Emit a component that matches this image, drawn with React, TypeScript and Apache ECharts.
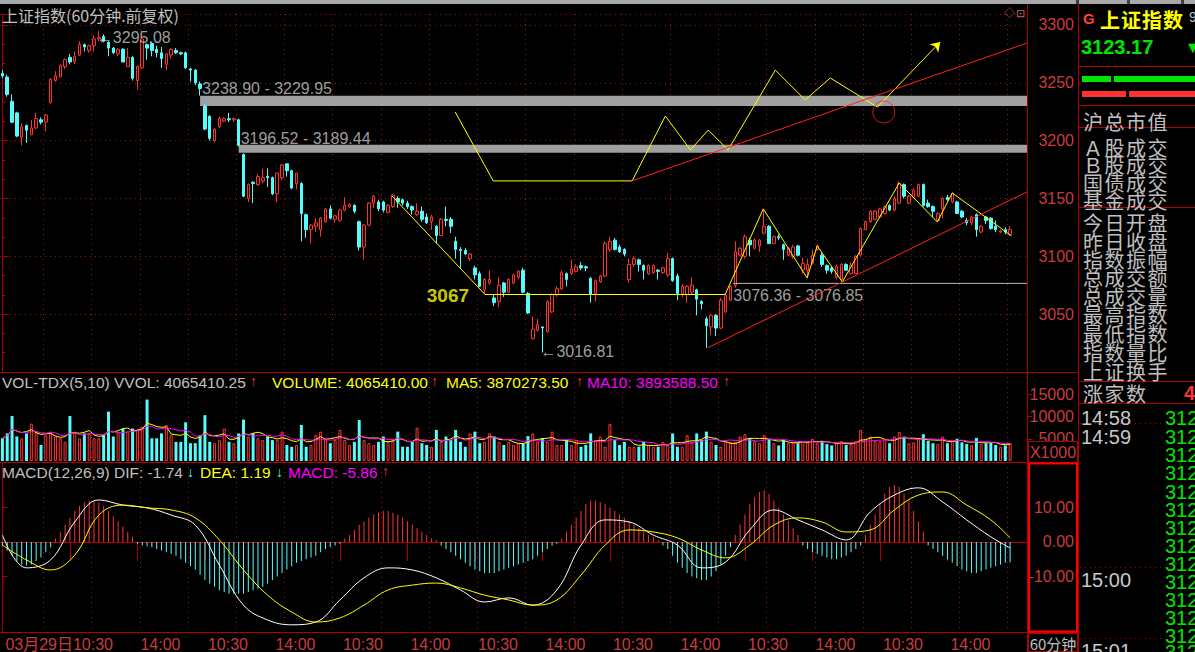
import React, { useEffect, useRef } from 'react';
import * as echarts from 'echarts';

// ---------------- data ----------------
const tickLabels = ['03月29日', '10:30', '14:00', '10:30', '14:00', '10:30', '14:00', '10:30', '14:00', '10:30', '14:00', '10:30', '14:00', '10:30', '14:00'];
const TICK_STEP = 14;
const SLOTS = 213;

// [open, close, low, high]
const candles = [
  [3258,3256,3254,3261],[3255,3240,3238,3257],[3234,3216,3215,3240],[3224,3204,3203,3225],[3203,3212,3196,3215],[3213,3209,3198,3214],[3205,3211,3205,3218],[3211,3219,3210,3224],[3218,3216,3214,3220],[3216,3222,3208,3223],
  [3233,3253,3232,3254],[3252,3256,3251,3260],[3255,3265,3255,3266],[3264,3270,3262,3271],[3272,3268,3266,3275],[3268,3273,3266,3277],[3274,3283,3273,3286],[3283,3281,3277,3284],[3278,3282,3276,3283],[3282,3288,3277,3291],
  [3288,3289,3286,3295.08],[3290,3286,3285,3292],[3285,3280,3273,3286],[3280,3276,3275,3281],[3275,3279,3273,3280],[3279,3268,3268,3280],[3264,3272,3264,3280],[3272,3254,3252,3273],[3252,3264,3244,3265],[3263,3288,3262,3289],
  [3283,3280,3270,3284],[3284,3278,3273,3285],[3279,3276,3272,3282],[3276,3271,3263,3281],[3266,3275,3261,3276],[3274,3279,3271,3280],[3278,3276,3275,3280],[3276,3275,3274,3277],[3276,3263,3262,3277],[3262,3261,3251,3263],
  [3261,3250,3248,3262],[3249,3245,3239,3251],[3230,3210,3209,3232],[3221,3202,3200,3222],[3200,3210,3199,3211],[3212,3219,3211,3221],[3217,3219,3216,3220],[3219,3218,3216,3224],[3218,3219,3216,3220],[3218,3196,3195,3219],
  [3188,3152,3151,3189],[3150,3162,3147,3163],[3164,3163,3146,3165],[3162,3169,3161,3171],[3165,3168,3163,3176],[3169,3168,3160,3176],[3168,3154,3153,3169],[3154,3172,3147,3172],[3168,3179,3166,3180],[3180,3174,3169,3180],
  [3174,3159,3158,3175],[3163,3172,3158,3172],[3163,3137,3113,3164],[3136,3123,3116,3137],[3123,3127,3111,3128],[3126,3129,3121,3133],[3123,3133,3117,3134],[3130,3141,3129,3142],[3141,3133,3132,3144],[3132,3135,3129,3136],
  [3131,3140,3130,3141],[3140,3144,3139,3151],[3143,3145,3142,3146],[3144,3139,3137,3145],[3130,3108,3105,3131],[3108,3127,3097,3128],[3127,3146,3126,3147],[3146,3152,3142,3153],[3147,3141,3139,3149],[3147,3140,3138,3148],
  [3138,3144,3137,3145],[3143,3153,3142,3154],[3150,3147,3142,3152],[3149,3146,3144,3150],[3146,3143,3141,3148],[3143,3140,3136,3144],[3136,3139,3135,3146],[3139,3132,3130,3143],[3134,3129,3128,3137],[3130,3134,3123,3136],
  [3126,3118,3111,3127],[3118,3132,3118,3133],[3132,3131,3126,3143],[3132,3126,3120,3134],[3113,3106,3098,3117],[3106,3105,3090,3108],[3105,3102,3101,3107],[3098,3102,3096,3103],[3090,3084,3080,3092],[3085,3074,3074,3087],
  [3071,3080,3067,3081],[3077,3080,3075,3088],[3064,3060,3057,3067],[3061,3075,3056,3082],[3077,3069,3065,3078],[3069,3080,3068,3081],[3077,3084,3076,3085],[3082,3087,3080,3088],[3088,3069,3068,3090],[3068,3051,3050,3069],
  [3029,3037,3028,3048],[3036,3041,3035,3046],[3039,3038,3016.81,3039],[3035,3061,3034,3062],[3052,3067,3051,3068],[3067,3072,3065,3074],[3072,3086,3071,3088],[3085,3080,3074,3086],[3085,3089,3084,3097],[3087,3091,3086,3093],
  [3092,3090,3088,3095],[3091,3090,3087,3092],[3081,3067,3060,3082],[3068,3079,3061,3080],[3078,3083,3077,3084],[3083,3111,3082,3113],[3106,3113,3104,3117],[3114,3106,3105,3116],[3108,3104,3103,3110],[3106,3102,3100,3107],
  [3080,3093,3077,3098],[3093,3098,3091,3100],[3097,3093,3087,3098],[3092,3088,3080,3093],[3085,3092,3084,3093],[3086,3092,3085,3093],[3088,3087,3080,3089],[3086,3090,3085,3091],[3084,3098,3082,3103],[3098,3079,3078,3099],
  [3083,3068,3062,3085],[3068,3074,3065,3076],[3067,3074,3060,3075],[3069,3075,3067,3082],[3071,3063,3049,3072],[3061,3059,3054,3062],[3046,3040,3021,3048],[3039,3049,3032,3050],[3049,3038,3031,3050],[3038,3062,3037,3064],
  [3052,3066,3051,3068],[3062,3074,3062,3075],[3075,3104,3073,3113],[3101,3107,3100,3108],[3100,3117,3098,3119],[3114,3110,3100,3116],[3107,3114,3106,3116],[3109,3114,3104,3115],[3120,3126,3119,3141],[3126,3111,3111,3127],
  [3111,3117,3111,3118],[3117,3116,3114,3119],[3110,3106,3097,3111],[3101,3107,3100,3108],[3100,3108,3098,3110],[3109,3101,3100,3110],[3088,3094,3085,3099],[3088,3093,3082,3098],[3094,3101,3093,3106],[3106,3109,3105,3110],
  [3101,3093,3091,3103],[3092,3088,3085,3093],[3090,3087,3085,3091],[3082,3091,3080,3093],[3080,3093,3079,3094],[3093,3088,3088,3094],[3085,3092,3085,3095],[3085,3100,3085,3101],[3101,3124,3100,3125],[3123,3130,3123,3131],
  [3130,3139,3129,3140],[3132,3139,3131,3140],[3134,3141,3133,3142],[3137,3143,3136,3144],[3144,3140,3139,3145],[3140,3150,3139,3152],[3146,3163,3145,3165],[3162,3152,3150,3163],[3146,3152,3145,3153],[3151,3157,3150,3159],
  [3152,3162,3151,3163],[3162,3144,3143,3163],[3146,3143,3142,3149],[3143,3139,3134,3144],[3131,3137,3130,3138],[3141,3150,3133,3151],[3151,3149,3148,3153],[3147,3154,3146,3155],[3147,3137,3137,3148],[3139,3134,3133,3140],
  [3131,3129,3127,3133],[3129,3134,3127,3135],[3136,3123,3117,3137],[3121,3126,3120,3127],[3134,3131,3128,3135],[3133,3124,3123,3134],[3126,3123,3121,3131],[3121,3122,3120,3123],[3123,3121,3119,3125],[3119,3123.17,3118,3126],
];

// volume, in millions (axis labels are shown x1000)
const volumes = [
  5.1,6.2,10.1,5.5,5.1,6.2,8.4,6.6,3.6,5.8,
  6.6,5.5,5.1,4.3,10.1,6.6,5.1,6.2,6.2,5.1,
  5.1,5.8,11.1,5.5,6.6,7.3,6.6,7.3,7.0,7.7,
  13.8,5.1,5.1,6.2,8.1,5.8,4.3,4.3,8.7,4.0,
  4.0,5.8,10.3,4.3,4.0,4.7,7.3,4.3,4.0,6.2,
  9.3,5.5,6.2,5.1,4.7,5.5,4.7,4.7,6.6,3.6,
  3.2,3.6,8.1,3.2,3.6,5.8,6.6,5.1,4.0,4.7,
  7.0,4.7,3.6,4.3,9.2,4.7,4.0,3.6,4.3,5.5,
  4.3,4.7,6.6,3.2,3.2,4.3,7.5,4.0,3.6,3.2,
  7.0,4.3,5.5,4.7,7.0,4.3,3.2,6.2,6.6,4.0,
  4.3,6.2,5.5,4.3,3.6,4.3,3.6,4.0,4.0,5.6,
  6.2,4.3,5.1,4.3,6.6,3.6,3.6,4.7,3.6,4.7,
  3.2,3.6,6.2,4.7,5.5,3.2,8.3,4.7,3.6,4.3,
  3.2,3.2,3.2,4.3,3.6,3.2,3.2,4.3,3.6,6.2,
  3.2,3.2,5.8,4.3,6.2,4.7,6.6,4.3,3.6,3.2,
  4.3,4.3,4.3,5.5,6.0,5.2,4.5,4.0,5.8,5.0,
  4.0,3.5,4.8,4.0,4.2,4.0,4.5,4.2,5.0,4.0,
  4.5,3.8,3.5,4.0,4.5,3.6,3.8,4.5,7.0,5.0,
  5.5,4.5,4.5,4.8,4.0,5.5,6.5,5.5,4.0,4.2,
  5.0,6.0,4.5,4.0,3.8,5.5,4.0,4.5,5.0,4.2,
  3.8,3.6,5.2,3.8,4.0,4.2,3.6,3.2,3.5,4.07,
];

const macdHist = [
  -1.0,-2.5,-4,-5.5,-6.5,-6.8,-6.5,-5.5,-4.5,-3,-1.5,
  1,3,5,7,9,10.5,11.5,12,12,11.5,10.5,9,7.5,6,4.5,3,1.5,
  -0.5,-1,-1.2,-1.5,-2,-2.5,-3,-3.5,-4,-5,-6,-7,-8,-9.5,-11,-12,-13,-14,-14.5,-15,-15,-15,-15,-14.5,-14,-13.5,-13,-12,-11,-10,-9,-8,-7,-6,-5.5,-5,-4.5,-4,-3,-2,-1.5,-1,-0.5,
  1,2,3.5,5,6,7,8,8.5,9,9,8.5,8,7,6,5,4,3,2,1,0.5,
  -1,-2,-3,-4,-5,-6,-7,-8,-8.5,-9,-9,-9,-8.5,-8,-7.5,-7,-6.5,-6,-5.5,-5,-4,-3,-2,-1,-0.5,
  1,3,5,7,9,11,12,12,11.5,11,10,9,8,7,6,5,4,3,2,1.5,0.5,
  -1,-2,-4,-6,-7.5,-9,-10,-10.5,-11,-11,-10,-8.5,-6.5,-4,-1.5,
  2,5,8,11,13,14.5,15,14,12,10,8,6,4,2,
  -1,-2,-3,-3.5,-4,-4.5,-5,-5,-4.5,-4,-3,-2,-1,
  2,5,8,11,14,16,16.5,16,14,12,9,6,3,
  -1,-2,-3,-4,-5,-6,-7,-8,-8.5,-9,-9,-8.5,-8,-7.5,-7,-6.5,-6,-5.86,
];

// [bar index, value]
const difPoints = [[0,2.0],[5,-7.5],[10,-5.2],[15,5.8],[20,12.2],[25,10.7],[30,9.9],[35,7.8],[40,4.9],[45,-6.7],[50,-18.3],[55,-22.6],[60,-24],[65,-23.2],[70,-16.8],[75,-10.4],[80,-7.5],[85,-8.1],[90,-10.4],[95,-13.9],[100,-17.4],[105,-16.2],[110,-18.3],[115,-13.9],[120,-0.9],[125,6.4],[130,5.8],[135,2.0],[140,-0.9],[145,-7.5],[150,-5.8],[155,3.5],[160,9.3],[165,6.4],[170,3.5],[175,0.6],[180,8.7],[185,13.6],[190,15.7],[195,11.6],[200,6.4],[205,1.5],[209,-1.74]];
const deaPoints = [[0,-0.9],[5,-5.2],[10,-8.1],[15,-3.8],[20,7.8],[25,10.7],[30,9.9],[35,9.3],[40,7.0],[45,0.6],[50,-8.1],[55,-15.4],[60,-20.3],[65,-23.2],[70,-22],[75,-18.3],[80,-13.9],[85,-12.5],[90,-11.9],[95,-13.3],[100,-15.4],[105,-16.8],[110,-18.3],[115,-16.8],[120,-9.6],[125,-0.9],[130,3.5],[135,2.9],[140,1.2],[145,-2.3],[150,-4.6],[155,-0.9],[160,4.9],[165,7.0],[170,5.8],[175,2.9],[180,3.5],[185,9.3],[190,13.6],[195,14.5],[200,10.7],[205,6.4],[209,1.19]];

// drawn objects, in [bar index, price]
const bandUpper = [3238.90, 3229.95];
const bandUpperStart = 41;
const bandLower = [3196.52, 3189.44];
const bandLowerStart = 49;
const gapLine = [3076.36, 3076.85];
const gapLineStart = 151.6;
const level3067 = 3067;
const highPoint = [20, 3295.08];
const lowPoint = [112, 3016.81];
const yellowUpper = [[93.9,3224.8],[101.8,3165.2],[130.6,3165.2],[137.5,3221.3],[142.7,3192],[146.4,3209.2],[150.5,3192],[160.3,3261],[166.5,3235.2],[171.7,3254.2],[181.5,3229]];
const yellowUpperArrowEnd = [194.5, 3285.3];
const redUpper = [[130.6,3165.2],[212.5,3284.4]];
const circlePoint = [182.8, 3224.8];
const yellowLower = [[80.8,3152.2],[100.1,3067],[149.9,3067],[157.8,3141],[166.9,3081.3],[169,3109],[174.2,3077.9],[186,3163.4],[193.9,3129.7],[197,3154.8],[209.3,3117.6]];
const redLower = [[146.2,3020.8],[212.5,3155.7]];

const volTitle = { name: 'VOL-TDX(5,10) VVOL: 4065410.25', volume: 'VOLUME: 4065410.00', ma5: 'MA5: 3870273.50', ma10: 'MA10: 3893588.50' };
const macdTitle = { name: 'MACD(12,26,9) DIF: -1.74', dea: 'DEA: 1.19', macd: 'MACD: -5.86' };
const quoteName = '上证指数';
const quotePrice = '3123.17';
const infoRows = ['沪总市值', 'Ａ股成交', 'Ｂ股成交', '国债成交', '基金成交', '今日开盘', '昨日收盘', '指数振幅', '总成交额', '总成交量', '最高指数', '最低指数', '指数量比', '上证换手', '涨家数'];
const tickTimes = ['14:58', '14:59', '15:00', '15:01'];

// ---------------- styles ----------------
const RED = '#ff3232';
const CYAN = '#54fcfc';
const YELLOW = '#ffff00';
const MAGENTA = '#ff00ff';
const FRAME = '#b00000';
const AXIS_TXT = '#c83c3c';
const GRID_DOT = '#8a1a1a';
const GRAY = '#c0c0c0';
const LAT = '"Liberation Sans", Arial, "Noto Sans CJK SC", sans-serif';
const CJK = '"Noto Sans CJK SC", "Liberation Sans", sans-serif';
const f = (size: number, fam = LAT, w = 'normal') => `${w} ${size}px ${fam}`;

function ma(arr: number[], n: number) {
  return arr.map((_, i) => {
    const s = Math.max(0, i - n + 1);
    let sum = 0;
    for (let k = s; k <= i; k++) sum += arr[k];
    return sum / (i - s + 1);
  });
}

function T(text: string, x: number, y: number, fill: string, font: string, align = 'left', z = 50) {
  return { type: 'text', x, y, z, silent: true, style: { text, fill, font, textAlign: align, align, textVerticalAlign: 'middle', verticalAlign: 'middle' } };
}
function L(x1: number, y1: number, x2: number, y2: number, stroke: string, lineWidth = 1, lineDash?: number[], z = 40) {
  return { type: 'line', z, silent: true, shape: { x1, y1, x2, y2 }, style: { stroke, lineWidth, lineDash } };
}
function R(x: number, y: number, width: number, height: number, fill: string, stroke?: string, lineWidth = 1, z = 45) {
  return { type: 'rect', z, silent: true, shape: { x, y, width, height }, style: { fill, stroke, lineWidth } };
}

function buildOption() {
  const cats = Array.from({ length: SLOTS }, (_, i) => 's' + i);
  const vLines = (i: number) => i % 10 === 9;
  const labelShow = (i: number) => i % TICK_STEP === 0 && i / TICK_STEP < tickLabels.length;
  const ma5 = ma(volumes, 5);
  const ma10 = ma(volumes, 10);

  const splitV = { show: true, interval: vLines, lineStyle: { color: GRID_DOT, type: [1, 4], width: 1 } };
  const catAxis = (gridIndex: number, extra: any = {}) => ({
    type: 'category', gridIndex, data: cats, boundaryGap: true,
    axisLine: { show: false }, axisTick: { show: false }, axisLabel: { show: false },
    splitLine: splitV, ...extra,
  });
  const valX = (gridIndex: number) => ({ type: 'value', gridIndex, min: -0.5, max: SLOTS - 0.5, show: false, splitLine: { show: false } });

  const graphic: any[] = [];
  // top strip
  graphic.push(R(0, 0, 1195, 4, '#a8a8a8'));
  graphic.push(R(1076, 0, 3, 4, '#404040'), R(1127, 0, 3, 4, '#404040'), R(1181, 0, 3, 4, '#404040'));
  graphic.push(T('上证指数(60分钟.前复权)', 2, 15, GRAY, f(16, CJK)));
  graphic.push(T('◇', 1004, 13, '#d06060', f(11)), T('⊡', 1016, 13, '#d06060', f(11)));
  // frame
  graphic.push(L(1027.5, 4, 1027.5, 652, FRAME), L(1078.5, 4, 1078.5, 652, FRAME));
  graphic.push(L(0, 372.5, 1078, 372.5, FRAME), L(0, 462.5, 1078, 462.5, FRAME), L(0, 632.5, 1078, 632.5, FRAME));
  // volume title
  const vy = 382;
  const TF = 15.5;
  graphic.push(T(volTitle.name, 2, vy, GRAY, f(TF)), T('↑', 250, vy - 1, RED, f(14)));
  graphic.push(T(volTitle.volume, 272, vy, YELLOW, f(TF)), T('↑', 431, vy - 1, RED, f(14)));
  graphic.push(T(volTitle.ma5, 446, vy, YELLOW, f(TF)), T('↑', 576, vy - 1, RED, f(14)));
  graphic.push(T(volTitle.ma10, 587, vy, MAGENTA, f(TF)), T('↑', 723, vy - 1, RED, f(14)));
  // macd title
  const my = 472;
  graphic.push(T(macdTitle.name, 2, my, GRAY, f(TF)), T('↓', 187, my, CYAN, f(14)));
  graphic.push(T(macdTitle.dea, 200, my, YELLOW, f(TF)), T('↓', 276, my, CYAN, f(14)));
  graphic.push(T(macdTitle.macd, 288, my, MAGENTA, f(TF)), T('↑', 382, my - 1, RED, f(14)));
  // axis-column boxes
  graphic.push(R(1028.5, 441.5, 49, 21, '#000', FRAME, 1, 60), T('X1000', 1053, 452, AXIS_TXT, f(16), 'center', 61));
  graphic.push(R(1029, 463.5, 48, 168, 'rgba(0,0,0,0)', '#ff0000', 2, 60));
  graphic.push(R(1028.5, 633.5, 49, 18, '#000', FRAME, 1, 60), T('60分钟', 1053, 643, GRAY, f(15, CJK), 'center', 61));
  // right panel
  graphic.push(T('G', 1083, 18, '#ff4040', f(15, LAT, 'bold')));
  quoteName.split('').forEach((ch, k) => graphic.push(T(ch, 1100 + k * 21, 19, YELLOW, f(20, CJK, 'bold'))));
  graphic.push(T('9', 1189, 17, GRAY, f(14)));
  graphic.push(T(quotePrice, 1081, 47, '#00e600', f(20, LAT, 'bold')));
  graphic.push(T('▼', 1185, 47, '#00e600', f(16)));
  [66.5, 105.5, 127.5, 207.5, 381.5, 403.5].forEach((y) => graphic.push(L(1079, y, 1195, y, FRAME)));
  graphic.push(R(1082, 76, 29, 6, '#00e600'), R(1114, 76, 81, 6, '#00e600'));
  graphic.push(R(1082, 91, 44, 6, RED), R(1129, 91, 66, 6, RED));
  const rowY = [121, 147, 164, 182, 200, 222, 241, 259, 277, 296, 314, 333, 352, 371, 393];
  infoRows.forEach((row, r) => {
    row.split('').forEach((ch, k) => graphic.push(T(ch, 1083 + k * 21.5, rowY[r], GRAY, f(20, CJK))));
  });
  graphic.push(T('4', 1184, 393, RED, f(20, LAT, 'bold')));
  const tY = [418, 437, 580, 651];
  tickTimes.forEach((t, k) => graphic.push(T(t, 1081, tY[k], '#c8c8c8', f(20))));
  const listY = [418, 437, 455, 473, 492, 510, 528, 546, 564, 582, 600, 618, 636, 652];
  listY.forEach((y) => graphic.push(T(quotePrice, 1165, y, '#00e600', f(20))));
  [423.5, 567.5, 638.5].forEach((y) => graphic.push(L(1080, y, 1163, y, FRAME, 1, [1, 4])));

  const txt = (size = 16) => ({ color: '#c8c8c8', fontSize: size, fontFamily: LAT });

  const option: any = {
    animation: false,
    backgroundColor: '#000',
    textStyle: { fontFamily: LAT },
    grid: [
      { left: 0, top: 14, width: 1027, height: 358, containLabel: false, outerBoundsMode: 'none', show: false },
      { left: 0, top: 372, width: 1027, height: 89, containLabel: false, outerBoundsMode: 'none', show: false },
      { left: 0, top: 462, width: 1027, height: 170, containLabel: false, outerBoundsMode: 'none', show: false },
    ],
    xAxis: [
      catAxis(0),
      valX(0),
      catAxis(1),
      catAxis(2, {
        axisLine: { show: true, lineStyle: { color: FRAME } },
        axisTick: { show: true, interval: labelShow, alignWithLabel: true, length: 19, lineStyle: { color: FRAME } },
        axisLabel: {
          show: true, interval: labelShow, align: 'left', margin: 4, padding: [0, 0, 0, 3],
          color: AXIS_TXT, fontSize: 16, fontFamily: LAT,
          formatter: (_v: string, i: number) => tickLabels[i / TICK_STEP] ?? '',
        },
      }),
      valX(2),
    ],
    yAxis: [
      {
        type: 'value', gridIndex: 0, position: 'right', min: 3000, max: 3309.5, interval: 50,
        axisLine: { show: true, lineStyle: { color: FRAME } },
        axisTick: { show: true, length: 6, lineStyle: { color: FRAME } },
        minorTick: { show: true, splitNumber: 3, length: 3, lineStyle: { color: FRAME } },
        axisLabel: { color: AXIS_TXT, fontSize: 16, fontFamily: LAT, align: 'right', margin: 47, formatter: (v: number) => (v >= 3050 && v <= 3300 ? String(v) : '') },
        splitLine: { show: true, lineStyle: { color: GRID_DOT, type: [1, 4] } },
      },
      {
        type: 'value', gridIndex: 1, position: 'right', min: 0, max: 20, interval: 5,
        axisLine: { show: true, lineStyle: { color: FRAME } },
        axisTick: { show: true, length: 5, lineStyle: { color: FRAME } },
        axisLabel: { color: AXIS_TXT, fontSize: 16, fontFamily: LAT, align: 'right', margin: 47, formatter: (v: number) => (v > 0 && v < 20 ? String(v * 1000) : '') },
        splitLine: { show: false },
      },
      {
        type: 'value', gridIndex: 2, position: 'right', min: -26.09, max: 23.19,
        axisLine: { show: true, lineStyle: { color: FRAME } },
        axisTick: { show: true, length: 5, customValues: [-10, 0, 10], lineStyle: { color: FRAME } },
        axisLabel: { color: AXIS_TXT, fontSize: 16, fontFamily: LAT, align: 'right', margin: 47, customValues: [-10, 0, 10], formatter: (v: number) => v.toFixed(2) },
        splitLine: { show: false },
      },
    ],
    graphic: { elements: graphic },
    series: [
      {
        type: 'candlestick', xAxisIndex: 0, yAxisIndex: 0, data: candles, barWidth: 3,
        itemStyle: { color: '#000000', color0: CYAN, borderColor: RED, borderColor0: CYAN, borderWidth: 1 },
        silent: true,
      },
      {
        type: 'scatter', xAxisIndex: 1, yAxisIndex: 0, symbolSize: 0, silent: true, z: 4,
        data: [
          { value: [bandUpperStart, bandUpper[0]], label: { show: true, position: 'right', distance: 2, offset: [0, -7], formatter: `${bandUpper[0].toFixed(2)} - ${bandUpper[1].toFixed(2)}`, ...txt() } },
          { value: [bandLowerStart, bandLower[0]], label: { show: true, position: 'right', distance: 2, offset: [0, -6], formatter: `${bandLower[0].toFixed(2)} - ${bandLower[1].toFixed(2)}`, ...txt() } },
          { value: [gapLineStart, (gapLine[0] + gapLine[1]) / 2], label: { show: true, position: 'right', distance: 0, offset: [0, 12], formatter: `${gapLine[0].toFixed(2)} - ${gapLine[1].toFixed(2)}`, ...txt() } },
          { value: [100.1, level3067], label: { show: true, position: 'left', distance: 16, offset: [0, 1], formatter: String(level3067), color: YELLOW, fontSize: 19, fontWeight: 'bold', fontFamily: LAT } },
          { value: highPoint, label: { show: true, position: 'right', distance: 0, offset: [-2, 7], formatter: '←' + highPoint[1].toFixed(2), ...txt() } },
          { value: lowPoint, label: { show: true, position: 'right', distance: 0, offset: [-2, -1], formatter: '←' + lowPoint[1].toFixed(2), ...txt() } },
        ],
        markArea: {
          silent: true, label: { show: false },
          itemStyle: { color: '#a0a0a0' },
          data: [
            [{ coord: [bandUpperStart, bandUpper[0]] }, { coord: [SLOTS - 0.5, bandUpper[1]] }],
            [{ coord: [bandLowerStart, bandLower[0]] }, { coord: [SLOTS - 0.5, bandLower[1]] }],
          ],
        },
      },
      {
        type: 'line', xAxisIndex: 1, yAxisIndex: 0, silent: true, symbol: 'none', z: 5,
        data: [[gapLineStart, (gapLine[0] + gapLine[1]) / 2], [SLOTS - 0.5, (gapLine[0] + gapLine[1]) / 2]],
        lineStyle: { color: '#b8b8b8', width: 1 },
      },
      {
        type: 'line', xAxisIndex: 1, yAxisIndex: 0, silent: true, symbol: 'none', z: 6,
        data: yellowUpper, lineStyle: { color: YELLOW, width: 1 },
        markLine: {
          silent: true, symbol: ['none', 'arrow'], symbolSize: 9, label: { show: false },
          lineStyle: { color: YELLOW, width: 1, type: 'solid' },
          data: [[{ coord: yellowUpper[yellowUpper.length - 1] }, { coord: yellowUpperArrowEnd }]],
        },
      },
      { type: 'line', xAxisIndex: 1, yAxisIndex: 0, silent: true, symbol: 'none', z: 6, data: yellowLower, lineStyle: { color: YELLOW, width: 1 } },
      { type: 'line', xAxisIndex: 1, yAxisIndex: 0, silent: true, symbol: 'none', z: 6, data: redUpper, lineStyle: { color: '#ff2020', width: 1 } },
      { type: 'line', xAxisIndex: 1, yAxisIndex: 0, silent: true, symbol: 'none', z: 6, data: redLower, lineStyle: { color: '#ff2020', width: 1 } },
      {
        type: 'scatter', xAxisIndex: 1, yAxisIndex: 0, silent: true, z: 6, symbol: 'circle', symbolSize: 22,
        data: [circlePoint], itemStyle: { color: 'rgba(0,0,0,0)', borderColor: '#ff2020', borderWidth: 1 },
      },
      {
        type: 'bar', xAxisIndex: 2, yAxisIndex: 1, barWidth: 3, silent: true,
        data: volumes.map((v, i) => {
          const up = candles[i][1] >= candles[i][0];
          return { value: v, itemStyle: up ? { color: '#000', borderColor: RED, borderWidth: 1 } : { color: CYAN } };
        }),
      },
      { type: 'line', xAxisIndex: 2, yAxisIndex: 1, silent: true, symbol: 'none', data: ma5, lineStyle: { color: YELLOW, width: 1 } },
      { type: 'line', xAxisIndex: 2, yAxisIndex: 1, silent: true, symbol: 'none', data: ma10, lineStyle: { color: MAGENTA, width: 1 } },
      {
        type: 'bar', xAxisIndex: 3, yAxisIndex: 2, barWidth: 1, silent: true,
        data: macdHist.map((v) => ({ value: v, itemStyle: { color: v >= 0 ? RED : CYAN } })),
      },
      { type: 'line', xAxisIndex: 4, yAxisIndex: 2, silent: true, symbol: 'none', smooth: 0.4, data: difPoints, lineStyle: { color: '#ffffff', width: 1 } },
      { type: 'line', xAxisIndex: 4, yAxisIndex: 2, silent: true, symbol: 'none', smooth: 0.4, data: deaPoints, lineStyle: { color: YELLOW, width: 1 } },
    ],
  };
  return option;
}

export default function App() {
  const ref = useRef<HTMLDivElement>(null);
  useEffect(() => {
    const el = ref.current;
    if (!el) return;
    document.body.style.margin = '0';
    document.body.style.background = '#000';
    const chart = echarts.init(el, null, { renderer: 'svg' });
    chart.setOption(buildOption());
    return () => chart.dispose();
  }, []);
  return <div ref={ref} style={{ position: 'fixed', left: 0, top: 0, width: 1195, height: 652, background: '#000' }} />;
}
